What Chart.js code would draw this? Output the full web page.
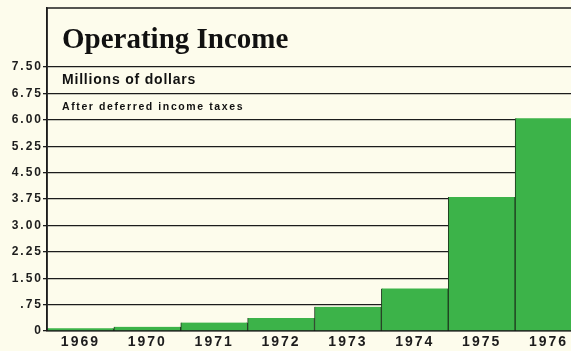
<!DOCTYPE html>
<html>
<head>
<meta charset="utf-8">
<script src="https://cdn.jsdelivr.net/npm/chart.js@4/dist/chart.umd.min.js"></script>
<style>
  html, body { margin: 0; padding: 0; background: #fdfcec; overflow: hidden; }
  #wrap { width: 582px; height: 351px; position: relative; }
</style>
</head>
<body>
<div id="wrap"><canvas id="incomeChart"></canvas></div>
<script>
// Dữ liệu biểu đồ (triệu đô la)
const years = ["1969", "1970", "1971", "1972", "1973", "1974", "1975", "1976"];
const income = [0.08, 0.12, 0.24, 0.37, 0.69, 1.21, 3.81, 6.05];
const yTicks = [0, 0.75, 1.5, 2.25, 3, 3.75, 4.5, 5.25, 6, 6.75, 7.5];
const yTickLabels = ["0", ".75", "1.50", "2.25", "3.00", "3.75", "4.50", "5.25", "6.00", "6.75", "7.50"];

const ink = "#1c1c1c";

// Nền + khung + chữ tiêu đề
const framePlugin = {
  id: "frame",
  beforeDraw(chart) {
    const ctx = chart.ctx;
    ctx.save();
    ctx.fillStyle = "#fdfcec";
    ctx.fillRect(0, 0, chart.width, chart.height);
    ctx.restore();
    ctx.letterSpacing = "2px";
  },
  afterDraw(chart) {
    const { ctx, chartArea } = chart;
    ctx.save();
    ctx.letterSpacing = "0px";
    ctx.strokeStyle = ink;
    ctx.lineWidth = 1.5;
    ctx.beginPath();
    ctx.moveTo(chartArea.left, chartArea.bottom);
    ctx.lineTo(chartArea.left, chartArea.top);
    ctx.lineTo(chartArea.right, chartArea.top);
    ctx.stroke();

    ctx.fillStyle = "#111";
    ctx.textAlign = "left";
    ctx.textBaseline = "alphabetic";
    ctx.font = "bold 29px 'Liberation Serif', serif";
    ctx.fillText("Operating Income", chartArea.left + 15, 48);

    ctx.letterSpacing = "0.8px";
    ctx.font = "bold 14px 'Liberation Sans', Arial, sans-serif";
    ctx.fillText("Millions of dollars", chartArea.left + 15, 84);

    ctx.letterSpacing = "1.6px";
    ctx.font = "bold 10.5px 'Liberation Sans', Arial, sans-serif";
    ctx.fillText("After deferred income taxes", chartArea.left + 15, 110);
    ctx.restore();
  },
};

const initIncomeChart = () => {
  const ctx = document.getElementById("incomeChart").getContext("2d");

  new Chart(ctx, {
    type: "bar",
    data: {
      labels: years,
      datasets: [
        {
          data: income,
          backgroundColor: "#3cb349",
          borderColor: "#1e3a1e",
          borderWidth: { top: 0, left: 1, right: 1, bottom: 0 },
          categoryPercentage: 1,
          barPercentage: 1,
        },
      ],
    },
    options: {
      responsive: true,
      maintainAspectRatio: false,
      animation: false,
      layout: { padding: { top: 8, left: 0, right: 0, bottom: 0 } },
      plugins: {
        legend: { display: false },
        tooltip: { enabled: false },
      },
      scales: {
        x: {
          grid: { display: false, drawTicks: false },
          border: { display: true, color: ink, width: 1.5 },
          ticks: {
            color: ink,
            font: { family: "'Liberation Sans', Arial, sans-serif", size: 14, weight: "bold" },
            padding: 3,
            maxRotation: 0,
          },
          afterFit: (scale) => { scale.height = 20; },
        },
        y: {
          min: 0,
          max: 9.18,
          afterBuildTicks: (scale) => {
            scale.ticks = yTicks.map((v) => ({ value: v }));
          },
          grid: { color: ink, lineWidth: 1.3, tickLength: 4 },
          border: { display: true, color: ink, width: 1.5 },
          ticks: {
            color: ink,
            font: { family: "'Liberation Sans', Arial, sans-serif", size: 12, weight: "bold" },
            padding: 0,
            callback: (value, index) => yTickLabels[index],
          },
          afterFit: (scale) => { scale.width = 47; },
        },
      },
    },
    plugins: [framePlugin],
  });
};

initIncomeChart();
</script>
</body>
</html>
